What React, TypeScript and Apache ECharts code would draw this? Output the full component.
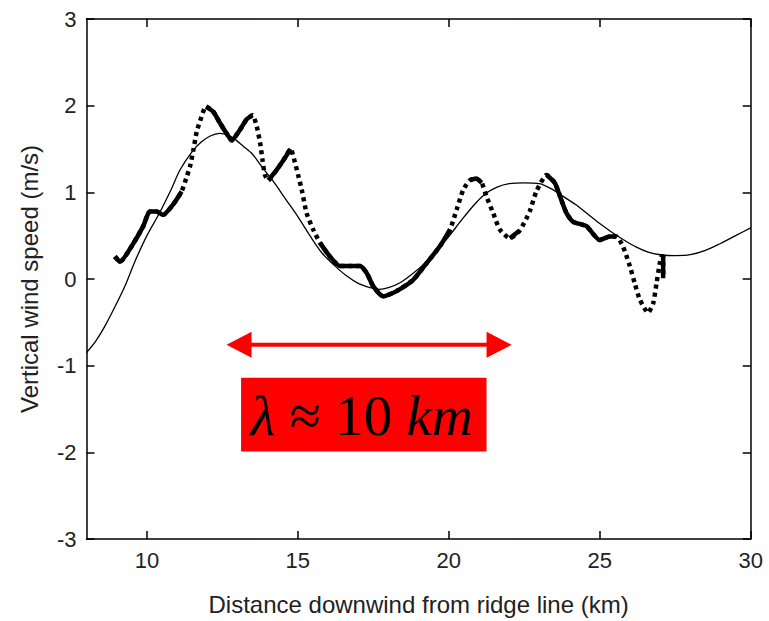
import React, { useEffect, useRef } from "react";
import * as echarts from "echarts";

const xTicks = [10, 15, 20, 25, 30];
const xTitle = "Distance downwind from ridge line (km)";
const yTitle = "Vertical wind speed (m/s)";

// thin model curve [km, m/s]
const modelCurve: [number, number][] = [
  [8.0, -0.85], [8.3, -0.72], [8.6, -0.55], [9.0, -0.28], [9.3, -0.06], [9.6, 0.2],
  [10.0, 0.5], [10.4, 0.75], [10.8, 1.03], [11.1, 1.26], [11.5, 1.47], [11.8, 1.58],
  [12.1, 1.65], [12.4, 1.68], [12.8, 1.64], [13.2, 1.53], [13.5, 1.44], [13.8, 1.3],
  [14.2, 1.12], [14.6, 0.92], [15.0, 0.72], [15.4, 0.5], [15.8, 0.3], [16.2, 0.16],
  [16.6, 0.04], [17.0, -0.05], [17.4, -0.1], [17.7, -0.12], [18.0, -0.1], [18.4, -0.04],
  [18.8, 0.06], [19.2, 0.18], [19.6, 0.33], [20.0, 0.49], [20.4, 0.67], [20.8, 0.84],
  [21.2, 0.98], [21.6, 1.06], [22.0, 1.1], [22.5, 1.11], [23.0, 1.1], [23.4, 1.04],
  [23.8, 0.95], [24.2, 0.86], [24.6, 0.75], [25.0, 0.64], [25.4, 0.54], [25.8, 0.45],
  [26.2, 0.37], [26.6, 0.31], [27.0, 0.28], [27.5, 0.27], [28.0, 0.28], [28.5, 0.33],
  [29.0, 0.41], [29.5, 0.5], [30.0, 0.59],
];

// observed (dotted) curve [km, m/s]
const observed: [number, number][] = [
  [8.94, 0.26], [9.11, 0.2], [9.55, 0.41], [9.88, 0.61], [10.1, 0.78], [10.32, 0.78],
  [10.54, 0.74], [10.87, 0.86], [11.15, 1.01], [11.32, 1.18], [11.43, 1.3], [11.54, 1.49],
  [11.65, 1.7], [11.76, 1.82], [11.96, 1.99], [12.2, 1.93], [12.42, 1.8], [12.64, 1.68],
  [12.81, 1.6], [13.08, 1.72], [13.3, 1.84], [13.5, 1.89], [13.64, 1.76], [13.75, 1.57],
  [13.83, 1.37], [13.91, 1.2], [14.02, 1.14], [14.3, 1.26], [14.52, 1.37], [14.76, 1.5],
  [14.9, 1.35], [15.01, 1.2], [15.13, 1.03], [15.29, 0.76], [15.51, 0.57], [15.73, 0.42],
  [16.06, 0.26], [16.39, 0.15], [16.7, 0.15], [17.06, 0.15], [17.28, 0.07], [17.5, -0.085],
  [17.83, -0.2], [18.27, -0.14], [18.82, -0.01], [19.26, 0.18], [19.71, 0.38], [20.04, 0.57],
  [20.26, 0.8], [20.48, 1.03], [20.7, 1.14], [20.9, 1.16], [21.09, 1.11], [21.25, 0.95],
  [21.47, 0.76], [21.69, 0.57], [22.02, 0.47], [22.35, 0.56], [22.68, 0.78], [22.9, 1.01],
  [23.24, 1.2], [23.51, 1.11], [23.73, 0.91], [23.9, 0.76], [24.12, 0.66], [24.56, 0.61],
  [25.0, 0.45], [25.33, 0.49], [25.55, 0.49], [25.77, 0.375], [26.0, 0.145], [26.16, -0.05],
  [26.33, -0.24], [26.6, -0.39], [26.77, -0.28], [26.88, -0.05], [26.99, 0.18], [27.05, 0.26],
  [27.1, 0.26], [27.1, 0.01],
];

// x ranges where the observed samples are packed so tightly they look solid
const denseRanges: [number, number][] = [
  [8.9, 11.2], [11.9, 13.55], [13.95, 14.8], [15.6, 20.1], [20.65, 21.15],
  [21.9, 22.4], [23.1, 25.75], [27.05, 27.2],
];

// annotation anchors (km, m/s)
const arrowSpan: [number, number] = [12.64, 22.08];
const arrowLevel = -0.76;
const boxCorner1: [number, number] = [13.12, -1.14];
const boxCorner2: [number, number] = [21.25, -1.99];

const sans = "'Liberation Sans', Arial, Helvetica, sans-serif";
const serif = "'Liberation Serif', 'Times New Roman', serif";

export default function App() {
  const ref = useRef<HTMLDivElement>(null);
  useEffect(() => {
    const chart = echarts.init(ref.current!, null, { renderer: "svg" });
    const inRange = (x: number) => denseRanges.some(([a, b]) => x >= a && x <= b);
    const denseData = observed.map(([x, y]) => (inRange(x) ? [x, y] : [x, "-"]));
    const axisLine = { show: true, onZero: false, lineStyle: { color: "#000", width: 1.5 } };
    const tickStyle = { color: "#000", width: 1.5 };
    const labelStyle = { fontSize: 22, color: "#222", fontFamily: sans };
    chart.setOption({
      animation: false,
      backgroundColor: "#fff",
      grid: { left: 86.5, right: 18.3, top: 19, bottom: 81 },
      xAxis: [
        {
          type: "value", min: 8, max: 30, position: "bottom",
          axisLine, splitLine: { show: false },
          axisTick: { inside: true, length: 8, customValues: xTicks, lineStyle: tickStyle },
          axisLabel: { ...labelStyle, customValues: xTicks, margin: 10 },
          name: xTitle, nameLocation: "middle", nameGap: 53,
          nameTextStyle: { fontSize: 24, color: "#222", fontFamily: sans },
        },
        {
          type: "value", min: 8, max: 30, position: "top",
          axisLine, splitLine: { show: false },
          axisTick: { inside: true, length: 8, customValues: xTicks, lineStyle: tickStyle },
          axisLabel: { show: false },
        },
      ],
      yAxis: [
        {
          type: "value", min: -3, max: 3, interval: 1, position: "left",
          axisLine, splitLine: { show: false },
          axisTick: { inside: true, length: 8, lineStyle: tickStyle },
          axisLabel: { ...labelStyle, margin: 10 },
          name: yTitle, nameLocation: "middle", nameGap: 45,
          nameTextStyle: { fontSize: 24, color: "#222", fontFamily: sans },
        },
        {
          type: "value", min: -3, max: 3, interval: 1, position: "right",
          axisLine, splitLine: { show: false },
          axisTick: { inside: true, length: 8, lineStyle: tickStyle },
          axisLabel: { show: false },
        },
      ],
      series: [
        {
          type: "line", data: modelCurve, smooth: 0.3, showSymbol: false,
          lineStyle: { color: "#000", width: 1.3 }, z: 2,
        },
        {
          type: "line", data: observed, showSymbol: false, smooth: 0.2,
          lineStyle: { color: "#000", width: 4.5, type: [4, 4], cap: "butt" }, z: 3,
        },
        {
          type: "line", data: denseData, showSymbol: false, connectNulls: false, smooth: 0.2,
          lineStyle: { color: "#000", width: 4.5, join: "round" }, z: 4,
        },
      ],
    });

    const px = (p: [number, number]) => chart.convertToPixel({ xAxisIndex: 0, yAxisIndex: 0 }, p) as number[];
    const [lx, ay] = px([arrowSpan[0], arrowLevel]);
    const [rx] = px([arrowSpan[1], arrowLevel]);
    const [bx1, by1] = px(boxCorner1);
    const [bx2, by2] = px(boxCorner2);
    const head = 25;
    const half = 13;
    chart.setOption({
      graphic: [
        {
          type: "line", shape: { x1: lx + head - 2, y1: ay, x2: rx - head + 2, y2: ay },
          style: { stroke: "#ff0000", lineWidth: 4 }, z: 10,
        },
        {
          type: "polygon", shape: { points: [[lx, ay], [lx + head, ay - half], [lx + head, ay + half]] },
          style: { fill: "#ff0000" }, z: 10,
        },
        {
          type: "polygon", shape: { points: [[rx, ay], [rx - head, ay - half], [rx - head, ay + half]] },
          style: { fill: "#ff0000" }, z: 10,
        },
        {
          type: "rect", shape: { x: bx1, y: by1, width: bx2 - bx1, height: by2 - by1 },
          style: { fill: "#ff0000" }, z: 10,
        },
        {
          type: "text", x: (bx1 + bx2) / 2 - 2, y: (by1 + by2) / 2 + 1, z: 11,
          style: {
            text: "{i|λ} {n|≈ 10} {i|km}",
            align: "center", verticalAlign: "middle",
            fill: "#000", fontFamily: serif, fontSize: 57,
            rich: {
              i: { fontStyle: "italic", fontFamily: serif, fontSize: 57, fill: "#000" },
              n: { fontFamily: serif, fontSize: 57, fill: "#000" },
            },
          },
        },
      ],
    });
    return () => chart.dispose();
  }, []);
  return <div ref={ref} style={{ position: "fixed", left: 0, top: 0, width: 769, height: 621 }} />;
}
